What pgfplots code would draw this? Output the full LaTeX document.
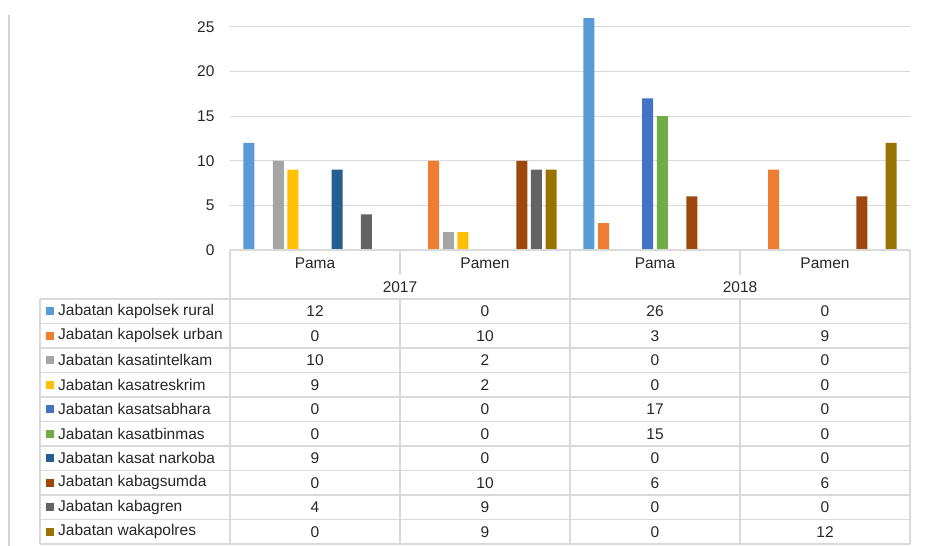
\documentclass[border=0pt]{standalone}
\usepackage{pgfplots}
\usepackage{pgfplotstable}
\pgfplotsset{compat=1.18}
\usepackage{fontspec}
\setmainfont{Liberation Sans}

\definecolor{c1}{HTML}{5B9BD5}
\definecolor{c2}{HTML}{ED7D31}
\definecolor{c3}{HTML}{A5A5A5}
\definecolor{c4}{HTML}{FFC000}
\definecolor{c5}{HTML}{4472C4}
\definecolor{c6}{HTML}{70AD47}
\definecolor{c7}{HTML}{255E91}
\definecolor{c8}{HTML}{9E480E}
\definecolor{c9}{HTML}{636363}
\definecolor{c10}{HTML}{997300}
\definecolor{gridc}{HTML}{D9D9D9}
\definecolor{txt}{HTML}{262626}

% rows: Pama 2017, Pamen 2017, Pama 2018, Pamen 2018
\pgfplotstableread{
x  s1 s2 s3 s4 s5 s6 s7 s8 s9 s10
0  12 0  10 9  0  0  9  0  4  0
1  0  10 2  2  0  0  0  10 9  9
2  26 3  0  0  17 15 0  6  0  0
3  0  9  0  0  0  0  0  6  0  12
}\data

\newcommand{\fnt}{\fontsize{15.5}{18.5}\selectfont}

\begin{document}
\begin{tikzpicture}[x=1pt,y=1pt]
\useasboundingbox (0,0) rectangle (927,546);
\begin{axis}[
    at={(230pt,296pt)}, anchor=south west,
    scale only axis, width=680pt, height=249.8pt,
    xmin=-0.5, xmax=3.5, ymin=0, ymax=28,
    ybar=3.7pt, bar width=11pt,
    axis line style={draw=none},
    xtick=\empty, ytick={0,5,...,25},
    ymajorgrids, major grid style={draw=gridc, line width=1pt},
    tick style={draw=none},
    yticklabel style={font=\fnt, text=txt, xshift=-12pt},
    /pgf/number format/assume math mode=true,
]
\addplot[fill=c1, draw=none] table[x=x, y=s1]{\data};
\addplot[fill=c2, draw=none] table[x=x, y=s2]{\data};
\addplot[fill=c3, draw=none] table[x=x, y=s3]{\data};
\addplot[fill=c4, draw=none] table[x=x, y=s4]{\data};
\addplot[fill=c5, draw=none] table[x=x, y=s5]{\data};
\addplot[fill=c6, draw=none] table[x=x, y=s6]{\data};
\addplot[fill=c7, draw=none] table[x=x, y=s7]{\data};
\addplot[fill=c8, draw=none] table[x=x, y=s8]{\data};
\addplot[fill=c9, draw=none] table[x=x, y=s9]{\data};
\addplot[fill=c10, draw=none] table[x=x, y=s10]{\data};
\end{axis}

% data table below the chart
\begin{scope}[draw=gridc, line width=1.2pt]
  \draw (230,296) -- (910,296);
  \foreach \k in {0,...,10} \draw (40,247-24.5*\k) -- (910,247-24.5*\k);
  \draw (40,247) -- (40,2);
  \foreach \xx in {230,570,910} \draw (\xx,296) -- (\xx,2);
  \foreach \xx in {400,740} {\draw (\xx,296) -- (\xx,271); \draw (\xx,247) -- (\xx,2);}
\end{scope}
\draw[gray!35, line width=1.5pt] (9,531) -- (9,0);

\foreach \xx/\lab in {315/Pama,485/Pamen,655/Pama,825/Pamen}
  \node[font=\fnt, text=txt] at (\xx,283) {\lab};
\node[font=\fnt, text=txt] at (400,259) {2017};
\node[font=\fnt, text=txt] at (740,259) {2018};

\foreach \i/\name [count=\k from 0] in {
  1/Jabatan kapolsek rural, 2/Jabatan kapolsek urban, 3/Jabatan kasatintelkam,
  4/Jabatan kasatreskrim, 5/Jabatan kasatsabhara, 6/Jabatan kasatbinmas,
  7/Jabatan kasat narkoba, 8/Jabatan kabagsumda, 9/Jabatan kabagren,
  10/Jabatan wakapolres} {
  \pgfmathsetmacro{\yy}{247-24.5*(\k+0.5)}
  \fill[c\i] (46,\yy-4) rectangle (54,\yy+4);
  \node[font=\fnt, text=txt, anchor=west, inner sep=0pt] at (58,\yy) {\name};
  \foreach \c/\xx in {0/315,1/485,2/655,3/825} {
    \pgfplotstablegetelem{\c}{s\i}\of\data
    \node[font=\fnt, text=txt] at (\xx,\yy) {\pgfplotsretval};
  }
}
\end{tikzpicture}
\end{document}
